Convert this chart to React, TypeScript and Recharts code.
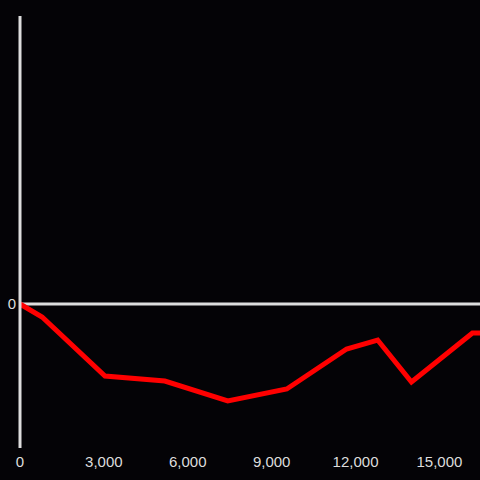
import React from 'react';
import { LineChart, Line, XAxis, YAxis, ReferenceLine } from 'recharts';

// x positions and values
const xValues = [0, 790, 3040, 5180, 7430, 9540, 11680, 12790, 14000, 16180, 16450];
const yValues = [0, -13, -72, -77, -97, -85, -45, -36, -78, -29, -29];
const xTicks = [0, 3000, 6000, 9000, 12000, 15000];

const data = xValues.map((x, i) => ({ x, y: yValues[i] }));

const axisColor = '#dddddd';

export default function App() {
  return (
    <div style={{ position: 'fixed', top: 0, left: 0, width: 480, height: 480, background: '#040306' }}>
      <LineChart width={480} height={480} data={data} margin={{ top: 16, right: 0, bottom: 0, left: 0 }}>
        <XAxis
          dataKey="x"
          type="number"
          domain={[0, 16450]}
          ticks={xTicks}
          tickFormatter={(v) => v.toLocaleString('en-US')}
          axisLine={false}
          tickLine={false}
          height={32}
          tick={{ fill: axisColor, fontSize: 15, fontFamily: 'Liberation Sans, Arial, sans-serif' }}
          allowDataOverflow
        />
        <YAxis
          type="number"
          domain={[-144, 288]}
          ticks={[0]}
          width={20}
          axisLine={{ stroke: axisColor, strokeWidth: 3 }}
          tickLine={false}
          tickSize={2}
          tickMargin={2}
          tick={{ fill: axisColor, fontSize: 15, fontFamily: 'Liberation Sans, Arial, sans-serif' }}
        />
        <ReferenceLine y={0} stroke={axisColor} strokeWidth={3} />
        <Line
          dataKey="y"
          stroke="#ff0000"
          strokeWidth={5}
          dot={false}
          isAnimationActive={false}
        />
      </LineChart>
    </div>
  );
}
